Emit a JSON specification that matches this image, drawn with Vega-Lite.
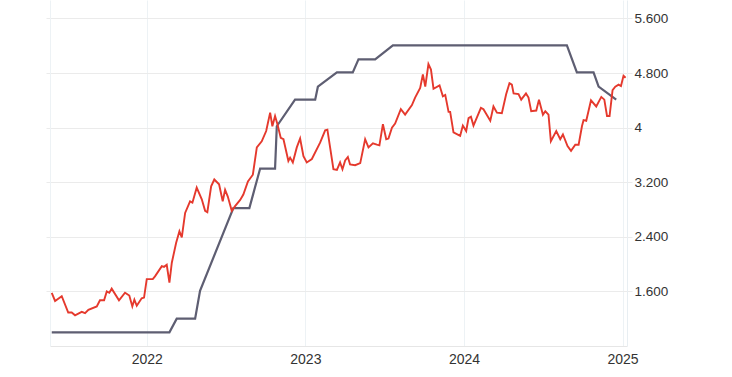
{
  "$schema": "https://vega.github.io/schema/vega-lite/v6.json",
  "width": 577,
  "height": 346,
  "autosize": "none",
  "padding": {"left": 50, "top": 0, "right": 105, "bottom": 31},
  "background": "#ffffff",
  "config": {"view": {"stroke": null}, "axis": {"labelFont": "Liberation Sans", "labelFontSize": 13, "labelColor": "#333333"}},
  "datasets": {
    "yield": [
      {"t":2021.401,"v":1.58},{"t":2021.422,"v":1.46},{"t":2021.464,"v":1.53},{"t":2021.505,"v":1.29},{"t":2021.527,"v":1.29},{"t":2021.548,"v":1.25},{"t":2021.590,"v":1.30},{"t":2021.611,"v":1.28},{"t":2021.632,"v":1.33},{"t":2021.685,"v":1.38},{"t":2021.705,"v":1.47},{"t":2021.731,"v":1.47},{"t":2021.748,"v":1.60},{"t":2021.764,"v":1.58},{"t":2021.779,"v":1.64},{"t":2021.825,"v":1.47},{"t":2021.863,"v":1.58},{"t":2021.890,"v":1.54},{"t":2021.909,"v":1.38},{"t":2021.922,"v":1.48},{"t":2021.937,"v":1.39},{"t":2021.968,"v":1.50},{"t":2021.983,"v":1.51},
      {"t":2022.000,"v":1.78},{"t":2022.038,"v":1.78},{"t":2022.052,"v":1.82},{"t":2022.095,"v":1.97},{"t":2022.109,"v":1.96},{"t":2022.126,"v":1.99},{"t":2022.143,"v":1.73},{"t":2022.158,"v":2.02},{"t":2022.185,"v":2.31},{"t":2022.206,"v":2.48},{"t":2022.221,"v":2.39},{"t":2022.242,"v":2.75},{"t":2022.273,"v":2.92},{"t":2022.288,"v":2.90},{"t":2022.315,"v":3.12},{"t":2022.347,"v":2.95},{"t":2022.368,"v":2.78},{"t":2022.382,"v":2.76},{"t":2022.406,"v":3.14},{"t":2022.426,"v":3.24},{"t":2022.456,"v":3.17},{"t":2022.479,"v":2.92},{"t":2022.494,"v":3.09},{"t":2022.511,"v":2.99},{"t":2022.536,"v":2.78},{"t":2022.557,"v":2.85},{"t":2022.589,"v":2.94},{"t":2022.609,"v":3.02},{"t":2022.638,"v":3.21},{"t":2022.669,"v":3.31},{"t":2022.694,"v":3.71},{"t":2022.725,"v":3.80},{"t":2022.753,"v":3.95},{"t":2022.778,"v":4.22},{"t":2022.792,"v":4.02},{"t":2022.809,"v":4.17},{"t":2022.824,"v":4.05},{"t":2022.845,"v":3.85},{"t":2022.862,"v":3.83},{"t":2022.893,"v":3.51},{"t":2022.904,"v":3.56},{"t":2022.921,"v":3.49},{"t":2022.946,"v":3.71},{"t":2022.967,"v":3.84},{"t":2022.988,"v":3.58},
      {"t":2023.009,"v":3.49},{"t":2023.041,"v":3.54},{"t":2023.093,"v":3.78},{"t":2023.125,"v":3.96},{"t":2023.139,"v":3.97},{"t":2023.177,"v":3.39},{"t":2023.199,"v":3.38},{"t":2023.219,"v":3.49},{"t":2023.234,"v":3.39},{"t":2023.251,"v":3.52},{"t":2023.268,"v":3.57},{"t":2023.282,"v":3.46},{"t":2023.314,"v":3.45},{"t":2023.346,"v":3.48},{"t":2023.377,"v":3.83},{"t":2023.398,"v":3.71},{"t":2023.426,"v":3.77},{"t":2023.451,"v":3.75},{"t":2023.467,"v":3.74},{"t":2023.489,"v":4.05},{"t":2023.510,"v":3.83},{"t":2023.524,"v":3.84},{"t":2023.546,"v":4.00},{"t":2023.566,"v":4.06},{"t":2023.602,"v":4.27},{"t":2023.629,"v":4.19},{"t":2023.672,"v":4.33},{"t":2023.692,"v":4.44},{"t":2023.724,"v":4.58},{"t":2023.741,"v":4.78},{"t":2023.756,"v":4.60},{"t":2023.776,"v":4.93},{"t":2023.792,"v":4.85},{"t":2023.808,"v":4.57},{"t":2023.846,"v":4.62},{"t":2023.867,"v":4.46},{"t":2023.882,"v":4.48},{"t":2023.903,"v":4.23},{"t":2023.913,"v":4.23},{"t":2023.934,"v":3.93},{"t":2023.976,"v":3.88},{"t":2023.993,"v":4.03},
      {"t":2024.014,"v":3.95},{"t":2024.029,"v":4.14},{"t":2024.044,"v":4.16},{"t":2024.060,"v":4.03},{"t":2024.107,"v":4.29},{"t":2024.123,"v":4.27},{"t":2024.166,"v":4.10},{"t":2024.186,"v":4.31},{"t":2024.208,"v":4.22},{"t":2024.239,"v":4.21},{"t":2024.266,"v":4.49},{"t":2024.287,"v":4.65},{"t":2024.302,"v":4.63},{"t":2024.313,"v":4.50},{"t":2024.344,"v":4.49},{"t":2024.361,"v":4.41},{"t":2024.391,"v":4.50},{"t":2024.407,"v":4.44},{"t":2024.424,"v":4.24},{"t":2024.456,"v":4.25},{"t":2024.473,"v":4.41},{"t":2024.498,"v":4.19},{"t":2024.513,"v":4.24},{"t":2024.533,"v":4.19},{"t":2024.548,"v":3.80},{"t":2024.582,"v":3.95},{"t":2024.607,"v":3.83},{"t":2024.624,"v":3.90},{"t":2024.653,"v":3.73},{"t":2024.675,"v":3.66},{"t":2024.702,"v":3.75},{"t":2024.723,"v":3.75},{"t":2024.744,"v":4.02},{"t":2024.754,"v":4.11},{"t":2024.771,"v":4.10},{"t":2024.801,"v":4.40},{"t":2024.834,"v":4.31},{"t":2024.866,"v":4.45},{"t":2024.885,"v":4.41},{"t":2024.902,"v":4.17},{"t":2024.918,"v":4.17},{"t":2024.937,"v":4.55},{"t":2024.954,"v":4.60},{"t":2024.975,"v":4.63},{"t":2024.990,"v":4.61},{"t":2025.006,"v":4.76},{"t":2025.019,"v":4.73}
    ],
    "rate": [
      {"t":2021.401,"v":1.0},{"t":2022.143,"v":1.0},{"t":2022.189,"v":1.2},{"t":2022.305,"v":1.2},{"t":2022.336,"v":1.61},{"t":2022.546,"v":2.82},{"t":2022.647,"v":2.82},{"t":2022.715,"v":3.40},{"t":2022.809,"v":3.40},{"t":2022.820,"v":4.02},{"t":2022.935,"v":4.41},{"t":2023.062,"v":4.41},{"t":2023.079,"v":4.60},{"t":2023.199,"v":4.81},{"t":2023.299,"v":4.81},{"t":2023.335,"v":5.00},{"t":2023.440,"v":5.00},{"t":2023.552,"v":5.205},{"t":2024.649,"v":5.205},{"t":2024.712,"v":4.81},{"t":2024.817,"v":4.81},{"t":2024.849,"v":4.60},{"t":2024.960,"v":4.41}
    ]
  },
  "resolve": {"axis": {"y": "independent"}},
  "layer": [
    {
      "data": {"name": "rate"},
      "mark": {"type": "line", "color": "#5e5e72", "strokeWidth": 2.2, "interpolate": "linear"},
      "encoding": {
        "x": {"field": "t", "type": "quantitative", "scale": {"domain": [2021.39, 2025.028], "nice": false, "zero": false},
              "axis": {"values": [2022, 2023, 2024, 2025], "format": "d", "title": null, "grid": true, "gridColor": "#edf2f5", "tickSize": 0, "labelPadding": 6, "labelFontSize": 14, "domainColor": "#e6e6e6", "labelFlush": false}},
        "y": {"field": "v", "type": "quantitative", "scale": {"domain": [0.8, 5.87], "nice": false, "zero": false},
              "axis": {"orient": "left", "values": [1.6, 2.4, 3.2, 4, 4.8, 5.6], "labels": false, "grid": false, "tickSize": 4, "tickColor": "#ebebeb", "domainColor": "#edf2f5", "title": null}}
      }
    },
    {
      "data": {"name": "yield"},
      "mark": {"type": "line", "color": "#e5392d", "strokeWidth": 1.9, "interpolate": "linear"},
      "encoding": {
        "x": {"field": "t", "type": "quantitative"},
        "y": {"field": "v", "type": "quantitative",
              "axis": {"orient": "right", "values": [1.6, 2.4, 3.2, 4, 4.8, 5.6], "labelExpr": "abs(datum.value - 4) < 0.001 ? '4' : format(datum.value, '.3f')", "grid": true, "gridColor": "#ebebeb", "tickSize": 5, "tickColor": "#ebebeb", "domainColor": "#e8eef2", "labelPadding": 2, "labelFontSize": 13.5, "title": null}}
      }
    }
  ]
}
